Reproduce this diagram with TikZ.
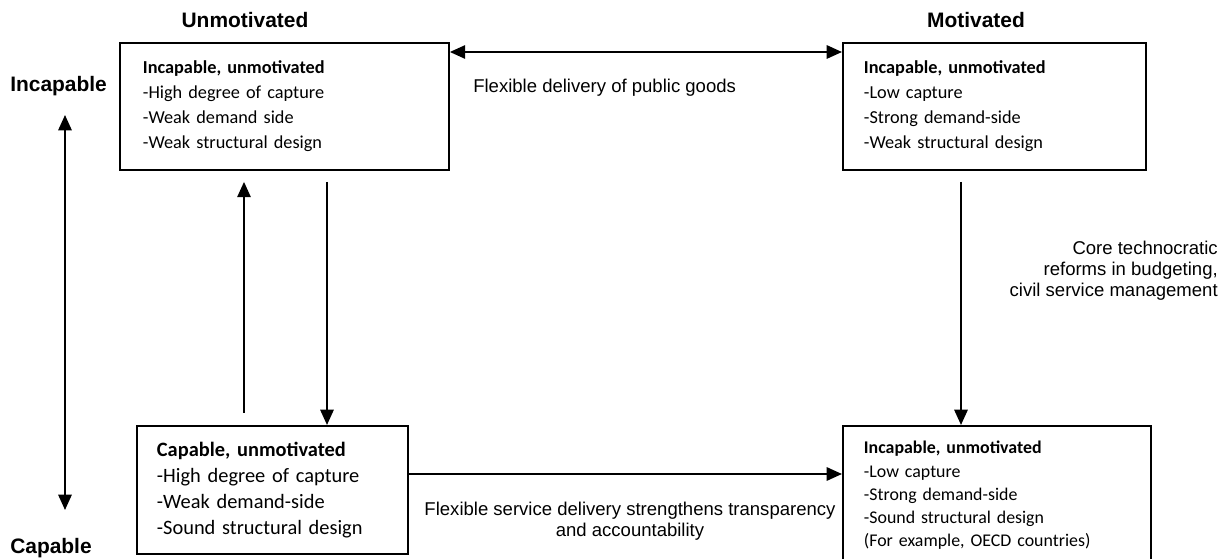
\documentclass[tikz,border=0pt]{standalone}
\usepackage{fontspec}
\setmainfont{Liberation Sans}
\newfontfamily\boxfont{Carlito}
\usetikzlibrary{arrows.meta}

\begin{document}
\begin{tikzpicture}[x=0.75pt,y=-0.75pt,
  arr/.style={line width=1.5pt,-{Triangle[length=11.5pt,width=10pt]}},
  darr/.style={line width=1.5pt,{Triangle[length=11.5pt,width=10pt]}-{Triangle[length=11.5pt,width=10pt]}},
  state/.style={draw,line width=1.4pt,rectangle,align=left,inner ysep=0pt,anchor=north west},
  smallbox/.style={font=\boxfont\fontsize{13.7}{18.75}\selectfont},
  axislabel/.style={inner sep=0pt,font=\bfseries\fontsize{15.7}{18}\selectfont},
  edgelabel/.style={inner sep=0pt,font=\fontsize{13.9}{15.75}\selectfont}]

\useasboundingbox (0,0) rectangle (1232,559);
\clip (0,0) rectangle (1232,559);

% axis headings
\node[axislabel,anchor=base] (unm) at (245,28) {Unmotivated};
\node[axislabel,anchor=base] (mot) at (976,28) {Motivated};
\node[axislabel,anchor=base west] (inc) at (10,92) {Incapable};
\node[axislabel,anchor=base west] (cap) at (10,553.5) {Capable};

% the four quadrants
\node[state,smallbox,inner xsep=17.25pt,text width=212.25pt,minimum height=95.25pt] (tl) at (119,42)
  {\textbf{Incapable, unmotivated}\\-High degree of capture\\-Weak demand side\\-Weak structural design};
\node[state,smallbox,inner xsep=15.75pt,text width=195.75pt,minimum height=95.25pt] (tr) at (842,42)
  {\textbf{Incapable, unmotivated}\\-Low capture\\-Strong demand-side\\-Weak structural design};
\node[state,font=\boxfont\fontsize{15.3}{19.5}\selectfont,inner xsep=15pt,text width=173.25pt,minimum height=96pt] (bl) at (136,425)
  {\textbf{Capable, unmotivated}\\-High degree of capture\\-Weak demand-side\\-Sound structural design};
\node[state,font=\boxfont\fontsize{13.4}{17.4}\selectfont,inner xsep=15.75pt,text width=199.5pt,minimum height=104.25pt] (br) at (842,425)
  {\textbf{Incapable, unmotivated}\\-Low capture\\-Strong demand-side\\-Sound structural design\\(For example, OECD countries)};

% connector labels (base anchor sits on the last line)
\node[edgelabel,anchor=base west] (fdp) at (473,93) {Flexible delivery of public goods};
\node[edgelabel,align=right,anchor=base east] (core) at (1218,297)
  {Core technocratic\\reforms in budgeting,\\civil service management};
\node[edgelabel,align=center,anchor=base] (fsd) at (630,537)
  {Flexible service delivery strengthens transparency\\and accountability};

% reference points for the connectors
\coordinate (toprow) at (600,52);
\coordinate (botrow) at (600,474);
\coordinate (lefttop) at (65,115);
\coordinate (leftbot) at (65,510);
\coordinate (upfoot) at (244,413);
\coordinate (downx) at (327,300);
\coordinate (rightx) at (961,300);

% connectors
\draw[darr] (tl.east |- toprow) -- (tr.west |- toprow);
\draw[darr] (lefttop) -- (leftbot);
\draw[arr,shorten >=8.25pt] (upfoot) -- (upfoot |- tl.south);
\draw[arr,shorten <=8.25pt] (tl.south -| downx) -- (bl.north -| downx);
\draw[arr,shorten <=8.25pt] (tr.south -| rightx) -- (br.north -| rightx);
\draw[arr] (bl.east |- botrow) -- (br.west |- botrow);

\end{tikzpicture}
\end{document}
